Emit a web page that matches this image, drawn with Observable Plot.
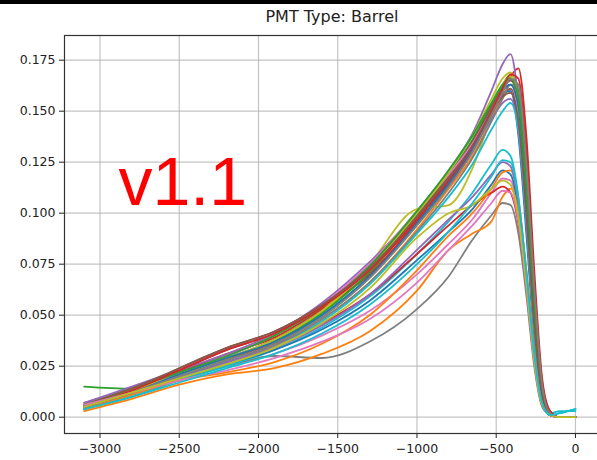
<!DOCTYPE html>
<html>
<head>
<meta charset="utf-8">
<script src="https://cdn.jsdelivr.net/npm/d3@7"></script>
<script src="https://cdn.jsdelivr.net/npm/@observablehq/plot@0.6"></script>
<style>
  html, body { margin: 0; padding: 0; background: #fff; width: 597px; height: 460px; overflow: hidden; }
  #band { height: 4px; background: #000; }
  #title { height: 26px; line-height: 26px; width: 536px; margin-left: 64px; text-align: center;
           font-family: "DejaVu Sans", sans-serif; font-size: 16px; color: #222; }
  #chart { width: 600px; }
</style>
</head>
<body>
<div id="band"></div>
<div id="title">PMT Type: Barrel</div>
<div id="chart"></div>
<script>
const titleText = "PMT Type: Barrel";
const annotation = "v1.1";
const xTicks = [-3000, -2500, -2000, -1500, -1000, -500, 0];
const yTicks = [0, 0.025, 0.05, 0.075, 0.1, 0.125, 0.15, 0.175];
const xs = [-3100, -2800, -2500, -2200, -1900, -1600, -1300, -1000, -800, -650, -530, -460, -410, -360, -310, -260, -210, -160, -100, 0];
const series = [
  [0.006, 0.013, 0.020, 0.027, 0.036, 0.050, 0.069, 0.095, 0.114, 0.130, 0.148, 0.158, 0.160, 0.138, 0.090, 0.038, 0.008, 0.001, 0, 0],
  [0.004, 0.011, 0.019, 0.027, 0.035, 0.048, 0.066, 0.092, 0.112, 0.128, 0.146, 0.157, 0.163, 0.152, 0.108, 0.052, 0.013, 0.002, 0, 0],
  [0.015, 0.014, 0.021, 0.029, 0.038, 0.052, 0.071, 0.098, 0.118, 0.134, 0.152, 0.163, 0.168, 0.160, 0.118, 0.058, 0.014, 0.002, 0, 0],
  [0.005, 0.012, 0.022, 0.031, 0.039, 0.053, 0.070, 0.096, 0.115, 0.131, 0.148, 0.160, 0.167, 0.171, 0.138, 0.072, 0.019, 0.003, 0, 0],
  [0.006, 0.014, 0.022, 0.030, 0.040, 0.055, 0.074, 0.101, 0.121, 0.139, 0.160, 0.173, 0.178, 0.155, 0.105, 0.048, 0.010, 0.001, 0, 0],
  [0.005, 0.013, 0.023, 0.033, 0.041, 0.054, 0.072, 0.097, 0.116, 0.132, 0.149, 0.158, 0.161, 0.146, 0.100, 0.045, 0.010, 0.001, 0, 0],
  [0.007, 0.014, 0.020, 0.025, 0.031, 0.040, 0.052, 0.070, 0.085, 0.097, 0.110, 0.117, 0.116, 0.100, 0.066, 0.028, 0.006, 0.001, 0, 0],
  [0.004, 0.011, 0.018, 0.025, 0.030, 0.029, 0.037, 0.053, 0.069, 0.087, 0.099, 0.105, 0.104, 0.090, 0.060, 0.025, 0.005, 0.001, 0, 0],
  [0.005, 0.012, 0.020, 0.028, 0.037, 0.052, 0.075, 0.102, 0.104, 0.122, 0.148, 0.163, 0.167, 0.150, 0.105, 0.048, 0.010, 0.001, 0, 0],
  [0.004, 0.010, 0.018, 0.025, 0.033, 0.044, 0.059, 0.080, 0.096, 0.110, 0.124, 0.131, 0.128, 0.108, 0.070, 0.030, 0.007, 0.002, 0.003, 0.003],
  [0.005, 0.012, 0.019, 0.026, 0.033, 0.043, 0.057, 0.077, 0.091, 0.102, 0.114, 0.121, 0.119, 0.102, 0.068, 0.029, 0.006, 0.001, 0, 0],
  [0.003, 0.009, 0.016, 0.021, 0.024, 0.031, 0.042, 0.062, 0.082, 0.090, 0.096, 0.108, 0.112, 0.101, 0.072, 0.034, 0.009, 0.001, 0, 0],
  [0.005, 0.012, 0.020, 0.028, 0.037, 0.051, 0.071, 0.099, 0.119, 0.136, 0.153, 0.162, 0.166, 0.154, 0.110, 0.052, 0.012, 0.001, 0, 0],
  [0.006, 0.014, 0.022, 0.029, 0.036, 0.046, 0.060, 0.080, 0.094, 0.104, 0.110, 0.113, 0.110, 0.095, 0.066, 0.030, 0.007, 0.001, 0, 0],
  [0.007, 0.015, 0.023, 0.031, 0.041, 0.056, 0.076, 0.100, 0.117, 0.132, 0.146, 0.154, 0.156, 0.140, 0.095, 0.042, 0.009, 0.001, 0, 0],
  [0.004, 0.012, 0.024, 0.034, 0.042, 0.055, 0.073, 0.099, 0.118, 0.135, 0.152, 0.161, 0.165, 0.156, 0.114, 0.056, 0.013, 0.002, 0, 0],
  [0.006, 0.013, 0.021, 0.030, 0.040, 0.055, 0.075, 0.101, 0.119, 0.134, 0.150, 0.160, 0.163, 0.148, 0.102, 0.046, 0.010, 0.001, 0, 0],
  [0.005, 0.012, 0.020, 0.027, 0.035, 0.048, 0.066, 0.091, 0.110, 0.127, 0.145, 0.156, 0.163, 0.159, 0.120, 0.062, 0.015, 0.002, 0, 0],
  [0.006, 0.013, 0.021, 0.029, 0.038, 0.052, 0.073, 0.100, 0.120, 0.138, 0.156, 0.166, 0.169, 0.153, 0.106, 0.049, 0.011, 0.001, 0, 0],
  [0.004, 0.011, 0.019, 0.026, 0.034, 0.047, 0.065, 0.090, 0.108, 0.124, 0.141, 0.150, 0.154, 0.141, 0.097, 0.042, 0.009, 0.001, 0.002, 0.004],
  [0.005, 0.012, 0.021, 0.029, 0.037, 0.050, 0.069, 0.095, 0.115, 0.132, 0.150, 0.160, 0.163, 0.152, 0.108, 0.050, 0.011, 0.001, 0, 0],
  [0.004, 0.011, 0.018, 0.022, 0.027, 0.036, 0.050, 0.072, 0.089, 0.100, 0.112, 0.120, 0.121, 0.106, 0.072, 0.032, 0.008, 0.001, 0, 0],
  [0.006, 0.014, 0.022, 0.030, 0.040, 0.054, 0.074, 0.101, 0.121, 0.138, 0.154, 0.163, 0.166, 0.156, 0.112, 0.054, 0.013, 0.002, 0, 0],
  [0.005, 0.013, 0.023, 0.033, 0.041, 0.054, 0.072, 0.097, 0.116, 0.133, 0.150, 0.161, 0.168, 0.166, 0.130, 0.066, 0.017, 0.003, 0, 0],
  [0.005, 0.012, 0.020, 0.027, 0.034, 0.045, 0.060, 0.082, 0.097, 0.108, 0.119, 0.125, 0.123, 0.105, 0.069, 0.029, 0.006, 0.001, 0, 0],
  [0.006, 0.014, 0.024, 0.034, 0.042, 0.055, 0.073, 0.098, 0.117, 0.133, 0.149, 0.157, 0.159, 0.145, 0.100, 0.045, 0.010, 0.001, 0, 0],
  [0.006, 0.012, 0.018, 0.023, 0.029, 0.037, 0.048, 0.066, 0.082, 0.094, 0.105, 0.111, 0.110, 0.096, 0.064, 0.027, 0.006, 0.001, 0, 0],
  [0.005, 0.012, 0.020, 0.028, 0.036, 0.049, 0.068, 0.094, 0.113, 0.130, 0.148, 0.159, 0.166, 0.163, 0.125, 0.064, 0.016, 0.002, 0, 0],
  [0.005, 0.012, 0.019, 0.026, 0.034, 0.046, 0.063, 0.088, 0.100, 0.104, 0.112, 0.116, 0.114, 0.098, 0.066, 0.028, 0.006, 0.001, 0, 0],
  [0.004, 0.010, 0.017, 0.024, 0.031, 0.041, 0.055, 0.075, 0.091, 0.105, 0.118, 0.126, 0.125, 0.107, 0.071, 0.031, 0.007, 0.001, 0.002, 0.004]
];

const rows = series.flatMap((ys, s) => ys.map((y, i) => ({x: xs[i], y, s})));
const tab10 = ["#1f77b4", "#ff7f0e", "#2ca02c", "#d62728", "#9467bd", "#8c564b", "#e377c2", "#7f7f7f", "#bcbd22", "#17becf"];

const chart = Plot.plot({
  width: 600,
  height: 430,
  marginTop: 5,
  marginBottom: 27,
  marginLeft: 64,
  marginRight: 0,
  style: {fontFamily: "'DejaVu Sans', sans-serif", fontSize: "12.5px", color: "#222", background: "#fff"},
  x: {domain: [-3224, 158], ticks: xTicks, tickSize: 5, tickPadding: 6, tickFormat: d3.format("d"), label: null},
  y: {domain: [-0.0080, 0.1871], ticks: yTicks, tickSize: 5, tickPadding: 4, tickFormat: d3.format(".3f"), label: null},
  color: {type: "ordinal", domain: d3.range(series.length), range: tab10},
  marks: [
    Plot.gridX(xTicks, {stroke: "#b0b0b0", strokeOpacity: 0.75, strokeWidth: 1.2}),
    Plot.gridY(yTicks, {stroke: "#b0b0b0", strokeOpacity: 0.75, strokeWidth: 1.2}),
    Plot.line(rows, {x: "x", y: "y", z: "s", stroke: "s", strokeWidth: 1.8, curve: "monotone-x"}),
    Plot.text([annotation], {x: [-2883], y: [0.1038], text: d => d, textAnchor: "start", lineAnchor: "bottom",
      fill: "#ff0000", fontSize: 68, fontFamily: "'Liberation Sans', Arial, sans-serif"}),
    Plot.frame({stroke: "#333", strokeWidth: 1.2})
  ]
});
document.getElementById("chart").appendChild(chart);
</script>
</body>
</html>
